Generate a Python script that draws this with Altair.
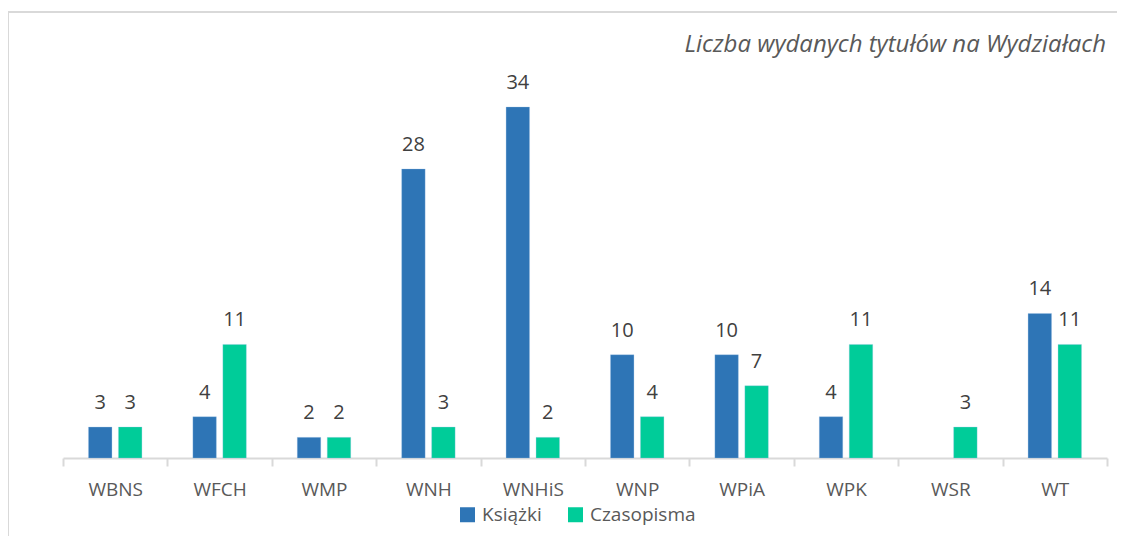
import altair as alt
import pandas as pd

categories = ["WBNS", "WFCH", "WMP", "WNH", "WNHiS", "WNP", "WPiA", "WPK", "WSR", "WT"]
ksiazki = [3, 4, 2, 28, 34, 10, 10, 4, None, 14]
czasopisma = [3, 11, 2, 3, 2, 4, 7, 11, 3, 11]
series = ["Książki", "Czasopisma"]
colors = ["#2E75B6", "#00CC99"]
title_text = "Liczba wydanych tytułów na Wydziałach"

rows = []
for c, k, z in zip(categories, ksiazki, czasopisma):
    if k is not None:
        rows.append({"cat": c, "series": "Książki", "value": k})
    rows.append({"cat": c, "series": "Czasopisma", "value": z})
df = pd.DataFrame(rows)

FONT = "Open Sans"
W, H = 1044, 351

x = alt.X("cat:N", sort=categories, title=None,
          scale=alt.Scale(paddingInner=0, paddingOuter=0),
          axis=alt.Axis(labelAngle=0, labelFont=FONT, labelFontSize=19, labelColor="#595959",
                        labelBaseline="alphabetic", labelPadding=29,
                        tickBand="extent", tickSize=8, tickColor="#D9D9D9", tickWidth=2,
                        domainColor="#D9D9D9", domainWidth=2, grid=False))
xo = alt.XOffset("series:N", sort=series,
                 scale=alt.Scale(paddingInner=0.217, paddingOuter=0.85))
y = alt.Y("value:Q", scale=alt.Scale(domain=[0, 34], nice=False), axis=None)

bars = alt.Chart(df).mark_bar(stroke="#9DC3E6", strokeWidth=0.5, strokeOpacity=0.6).encode(
    x=x, xOffset=xo, y=y,
    color=alt.Color("series:N", sort=series,
                    scale=alt.Scale(domain=series, range=colors),
                    legend=alt.Legend(title=None, orient="none", direction="horizontal",
                                      legendX=395, legendY=398,
                                      symbolType="square", symbolSize=225,
                                      symbolStrokeWidth=0, labelOffset=5,
                                      columnPadding=24,
                                      labelFont=FONT, labelFontSize=19,
                                      labelColor="#595959")),
)

labels = alt.Chart(df).mark_text(font=FONT, fontSize=20, color="#404040",
                                 baseline="alphabetic", dy=-18).encode(
    x=x, xOffset=xo, y=y, text=alt.Text("value:Q", format="d"),
)

border = alt.Chart(df).mark_rect(fill=None, stroke="#D9D9D9", strokeWidth=2).encode(
    x=alt.value(-55), x2=alt.value(W + 200), y=alt.value(-95), y2=alt.value(H + 300)
)

title = alt.Chart(pd.DataFrame({"t": [title_text]})).mark_text(
    font=FONT, fontSize=24, fontStyle="italic", color="#595959",
    align="right", baseline="alphabetic"
).encode(x=alt.value(W - 1), y=alt.value(-55), text="t:N")

chart = alt.layer(border, bars, labels, title).properties(
    width=W, height=H,
    background="white",
    padding={"left": 55, "top": 99, "right": 10, "bottom": 78},
    autosize=alt.AutoSizeParams(type="none"),
).configure_view(strokeWidth=0, stroke="transparent")

chart.save("out.html", embed_options={"renderer": "svg", "actions": False})
